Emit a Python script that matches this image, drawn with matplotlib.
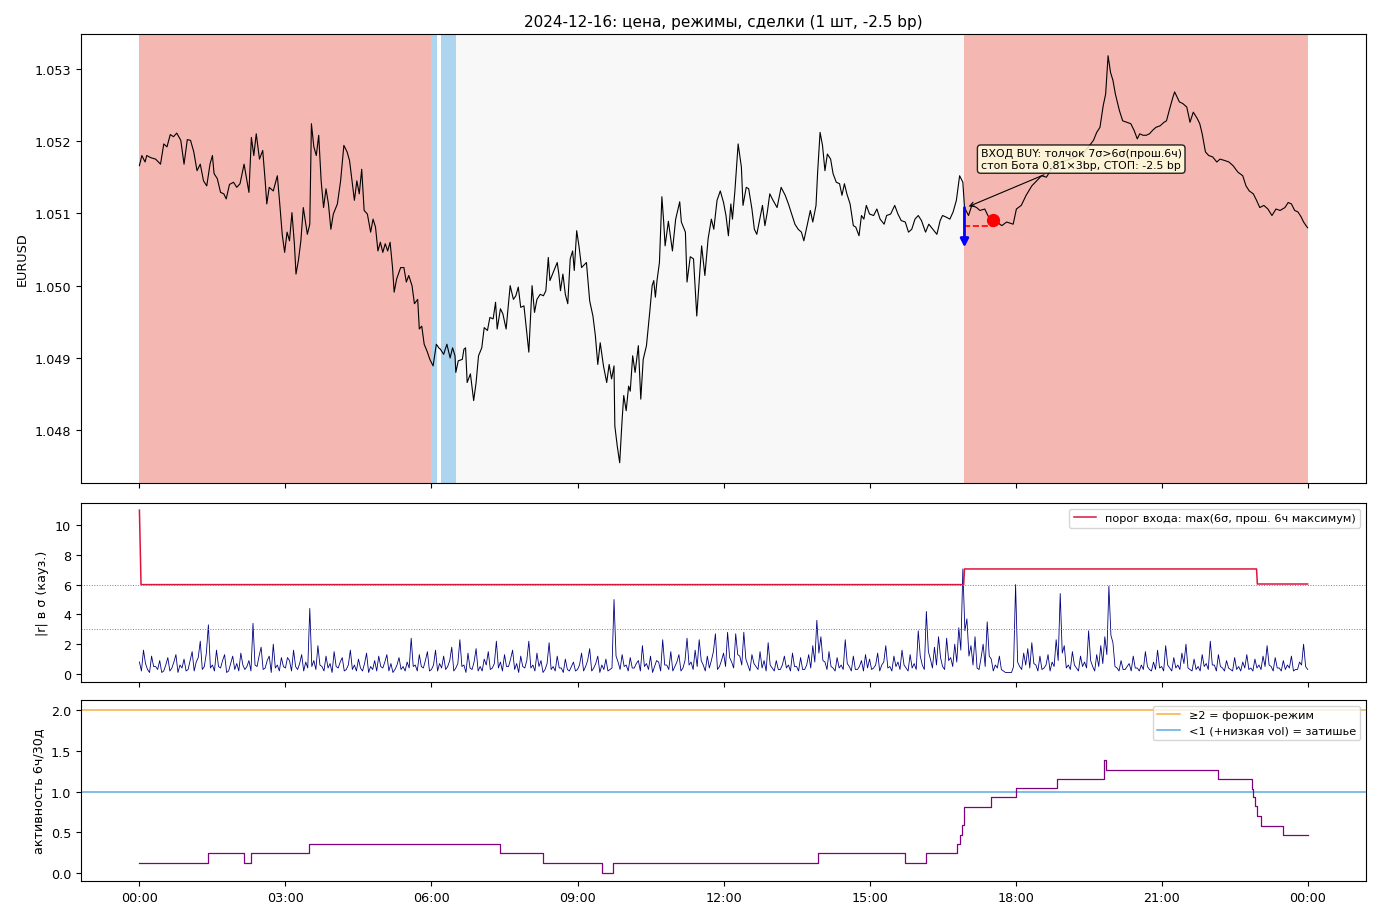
import numpy as np
import matplotlib
matplotlib.use("Agg")
import matplotlib.pyplot as plt

plt.rcParams["font.size"] = 9.2

# --- price, minutes since 00:00 ---
price_t = [0, 3, 7, 9, 14, 20, 26, 30, 34, 38,
           42, 46, 51, 55, 59, 63, 67, 71, 75, 79,
           83, 87, 90, 92, 96, 100, 104, 107, 111, 116,
           120, 124, 129, 135, 138, 141, 144, 148, 152, 155,
           157, 160, 165, 170, 173, 176, 179, 182, 185, 188,
           191, 193, 196, 199, 202, 207, 210, 212, 215, 218,
           221, 224, 227, 230, 233, 236, 239, 244, 248, 252,
           256, 259, 262, 265, 268, 271, 274, 277, 281, 285,
           288, 291, 294, 297, 300, 303, 306, 309, 312, 314,
           317, 322, 326, 329, 332, 336, 339, 343, 345, 348,
           351, 355, 358, 362, 366, 369, 371, 375, 379, 383,
           386, 389, 390, 393, 398, 400, 402, 404, 408, 412,
           415, 418, 422, 425, 429, 432, 436, 439, 441, 445,
           448, 452, 457, 461, 464, 467, 470, 474, 477, 480,
           484, 487, 490, 494, 498, 501, 504, 506, 510, 515,
           517, 519, 522, 525, 528, 531, 534, 536, 539, 542,
           545, 551, 555, 559, 562, 565, 568, 572, 576, 579,
           582, 585, 586, 589, 592, 595, 597, 600, 603, 605,
           608, 611, 615, 618, 621, 625, 629, 632, 634, 636,
           638, 641, 643, 644, 646, 648, 652, 657, 661, 666,
           668, 673, 675, 679, 683, 687, 691, 693, 697, 701,
           705, 708, 712, 716, 720, 723, 726, 729, 731, 734,
           738, 742, 744, 748, 751, 755, 758, 761, 764, 768,
           771, 774, 777, 781, 786, 791, 796, 800, 804, 808,
           812, 816, 819, 823, 827, 830, 834, 836, 839, 842,
           845, 848, 852, 855, 859, 863, 866, 869, 872, 876,
           880, 883, 887, 890, 893, 896, 900, 905, 909, 913,
           918, 921, 926, 931, 935, 939, 944, 948, 952, 956,
           960, 964, 969, 973, 978, 983, 987, 990, 994, 999,
           1003, 1007, 1011, 1015, 1017, 1022, 1026, 1032, 1036, 1042,
           1048, 1057, 1063, 1069, 1077, 1081, 1087, 1093, 1100, 1106,
           1112, 1118, 1124, 1130, 1147, 1163, 1176, 1180, 1184, 1188,
           1191, 1194, 1197, 1200, 1203, 1208, 1212, 1217, 1222, 1226,
           1230, 1233, 1237, 1241, 1245, 1249, 1253, 1258, 1263, 1266,
           1270, 1274, 1276, 1279, 1282, 1286, 1291, 1295, 1299, 1304,
           1307, 1310, 1314, 1318, 1323, 1328, 1332, 1338, 1343, 1348,
           1354, 1360, 1364, 1368, 1373, 1377, 1381, 1386, 1391, 1396,
           1401, 1406, 1412, 1416, 1420, 1424, 1428, 1432, 1435, 1438, 1440]
price_v = [1.05166, 1.05180, 1.05171, 1.05180, 1.05177, 1.05175, 1.05168, 1.05196, 1.05192, 1.05209,
           1.05206, 1.05211, 1.05201, 1.05168, 1.05202, 1.05201, 1.05185, 1.05159, 1.05168, 1.05145,
           1.05138, 1.05168, 1.05180, 1.05155, 1.05148, 1.05129, 1.05127, 1.05120, 1.05140, 1.05143,
           1.05136, 1.05141, 1.05168, 1.05129, 1.05205, 1.05180, 1.05210, 1.05175, 1.05187, 1.05145,
           1.05113, 1.05136, 1.05131, 1.05152, 1.05113, 1.05071, 1.05046, 1.05074, 1.05062, 1.05101,
           1.05058, 1.05016, 1.05035, 1.05062, 1.05108, 1.05071, 1.05085, 1.05224, 1.05192, 1.05180,
           1.05208, 1.05145, 1.05108, 1.05134, 1.05113, 1.05078, 1.05099, 1.05113, 1.05145, 1.05194,
           1.05185, 1.05173, 1.05145, 1.05118, 1.05145, 1.05127, 1.05161, 1.05104, 1.05099, 1.05074,
           1.05092, 1.05081, 1.05048, 1.05060, 1.05046, 1.05058, 1.05048, 1.05060, 1.05025, 1.04991,
           1.05009, 1.05025, 1.05025, 1.05005, 1.05014, 1.05000, 1.04975, 1.04981, 1.04940, 1.04944,
           1.04919, 1.04908, 1.04898, 1.04889, 1.04919, 1.04914, 1.04912, 1.04905, 1.04919, 1.04900,
           1.04914, 1.04903, 1.04880, 1.04896, 1.04898, 1.04912, 1.04914, 1.04866, 1.04878, 1.04841,
           1.04866, 1.04903, 1.04914, 1.04942, 1.04938, 1.04956, 1.04954, 1.04977, 1.04940, 1.04968,
           1.04961, 1.04940, 1.05000, 1.04981, 1.04986, 1.04998, 1.04970, 1.04972, 1.04940, 1.04908,
           1.05000, 1.04963, 1.04981, 1.04988, 1.04986, 1.04993, 1.05039, 1.05007, 1.05018, 1.05032,
           1.05016, 1.04993, 1.05016, 1.04988, 1.04975, 1.05037, 1.05048, 1.05021, 1.05076, 1.05053,
           1.05025, 1.05032, 1.04979, 1.04958, 1.04931, 1.04891, 1.04921, 1.04889, 1.04866, 1.04891,
           1.04871, 1.04889, 1.04806, 1.04778, 1.04755, 1.04815, 1.04848, 1.04827, 1.04861, 1.04854,
           1.04903, 1.04880, 1.04917, 1.04843, 1.04898, 1.04917, 1.04963, 1.05000, 1.05007, 1.04984,
           1.05007, 1.05032, 1.05092, 1.05123, 1.05092, 1.05055, 1.05089, 1.05048, 1.05092, 1.05116,
           1.05088, 1.05074, 1.05005, 1.05040, 1.05037, 1.04958, 1.05023, 1.05055, 1.05014, 1.05065,
           1.05092, 1.05078, 1.05118, 1.05131, 1.05115, 1.05097, 1.05069, 1.05113, 1.05092, 1.05131,
           1.05196, 1.05164, 1.05111, 1.05136, 1.05134, 1.05106, 1.05078, 1.05071, 1.05088, 1.05111,
           1.05083, 1.05102, 1.05127, 1.05118, 1.05108, 1.05136, 1.05125, 1.05113, 1.05099, 1.05085,
           1.05078, 1.05074, 1.05062, 1.05083, 1.05104, 1.05088, 1.05111, 1.05157, 1.05212, 1.05194,
           1.05159, 1.05182, 1.05175, 1.05155, 1.05143, 1.05141, 1.05125, 1.05141, 1.05127, 1.05113,
           1.05083, 1.05081, 1.05069, 1.05097, 1.05092, 1.05111, 1.05099, 1.05097, 1.05106, 1.05092,
           1.05085, 1.05097, 1.05099, 1.05111, 1.05099, 1.05090, 1.05088, 1.05074, 1.05078, 1.05092,
           1.05097, 1.05090, 1.05074, 1.05085, 1.05078, 1.05071, 1.05090, 1.05097, 1.05095, 1.05092,
           1.05102, 1.05118, 1.05152, 1.05143, 1.05108, 1.05097, 1.05111, 1.05108, 1.05104, 1.05106,
           1.05092, 1.05088, 1.05083, 1.05088, 1.05085, 1.05106, 1.05111, 1.05125, 1.05138, 1.05145,
           1.05152, 1.05150, 1.05161, 1.05168, 1.05175, 1.05182, 1.05201, 1.05212, 1.05219, 1.05249,
           1.05265, 1.05318, 1.05295, 1.05284, 1.05265, 1.05242, 1.05228, 1.05226, 1.05224, 1.05215,
           1.05203, 1.05210, 1.05208, 1.05208, 1.05210, 1.05215, 1.05219, 1.05221, 1.05226, 1.05228,
           1.05245, 1.05261, 1.05268, 1.05261, 1.05254, 1.05252, 1.05247, 1.05226, 1.05240, 1.05231,
           1.05224, 1.05210, 1.05185, 1.05180, 1.05178, 1.05171, 1.05175, 1.05173, 1.05171, 1.05166,
           1.05157, 1.05152, 1.05138, 1.05131, 1.05127, 1.05118, 1.05108, 1.05111, 1.05106, 1.05097,
           1.05106, 1.05104, 1.05108, 1.05115, 1.05113, 1.05104, 1.05102, 1.05095, 1.05088, 1.05083, 1.05080]
assert len(price_t) == len(price_v)

# regimes (start, end in minutes)
reg_start = [0, 360, 372, 390, 1017]
reg_end = [360, 367, 390, 1017, 1440]
reg_kind = ["forshock", "quiet", "quiet", "normal", "forshock"]
reg_style = {"forshock": ("#e74c3c", 0.4), "quiet": ("#3498db", 0.4), "normal": ("#bdc3c7", 0.1)}

# trade
entry_t, entry_p = 1017, 1.05108
shock_low = 1.05053
stop_p = 1.05083
exit_t, exit_p = 1052, 1.05091
trade_text = "ВХОД BUY: толчок 7σ>6σ(прош.6ч)\nстоп Бота 0.81×3bp, СТОП: -2.5 bp"

# |r| in sigma: values on the 5-minute marks ...
r_main = [0.8, 1.6, 0.3, 1.2, 0.5, 0.9, 0.2, 1.1, 0.4, 1.3, 0.6, 1.0,
          0.3, 1.5, 0.8, 2.2, 0.5, 3.3, 0.6, 1.6, 0.4, 1.3, 0.2, 1.2,
          0.7, 1.4, 0.3, 0.9, 3.4, 0.5, 1.8, 0.4, 1.2, 2.0, 0.6, 1.1,
          0.4, 0.9, 1.6, 0.3, 1.3, 0.8, 4.4, 0.9, 1.9, 0.5, 1.2, 0.7,
          1.5, 0.4, 1.1, 0.3, 1.6, 0.6, 1.0, 0.2, 1.4, 0.5, 0.9, 1.2,
          0.4, 1.3, 0.7, 0.3, 1.1, 0.5, 0.8, 2.4, 0.6, 1.3, 0.4, 1.5,
          0.3, 1.6, 0.7, 1.2, 0.5, 1.8, 0.4, 2.3, 0.6, 1.4, 0.3, 1.7,
          0.5, 1.0, 1.5, 0.4, 2.2, 0.8, 1.3, 0.5, 1.6, 0.7, 1.2, 0.4,
          2.2, 0.6, 1.4, 0.9, 0.3, 2.1, 0.5, 1.2, 0.4, 1.0, 0.2, 0.8,
          0.3, 1.4, 0.5, 1.7, 0.4, 1.2, 0.6, 1.0, 0.3, 5.0, 0.8, 1.3,
          0.6, 1.1, 0.4, 0.9, 1.9, 0.7, 1.2, 0.5, 0.8, 2.3, 0.6, 1.5,
          0.5, 1.3, 0.4, 2.4, 0.8, 1.6, 2.3, 0.6, 1.2, 0.9, 2.7, 0.5,
          1.4, 2.8, 0.8, 2.7, 1.2, 2.8, 0.6, 1.3, 0.5, 1.5, 0.9, 2.1,
          0.4, 0.9, 0.3, 1.2, 0.6, 1.4, 0.5, 1.1, 0.3, 1.3, 1.9, 3.6,
          2.5, 0.8, 1.5, 0.4, 1.1, 0.6, 2.3, 0.5, 1.2, 0.3, 0.9, 1.3,
          1.0, 0.4, 1.4, 0.6, 1.9, 0.5, 1.2, 0.8, 1.6, 0.4, 1.3, 0.7,
          2.9, 0.6, 4.2, 1.0, 1.8, 2.5, 0.5, 2.4, 1.1, 2.0, 3.1, 7.05,
          3.7, 1.9, 2.5, 0.3, 2.0, 3.5, 1.0, 0.6, 1.2, 0.2, 0.1, 0.1,
          6.0, 0.5, 1.4, 1.7, 2.1, 0.6, 1.2, 0.4, 1.3, 0.8, 2.3, 5.4,
          1.9, 0.6, 1.5, 0.4, 1.2, 0.8, 2.9, 0.5, 1.3, 1.9, 2.5, 5.9,
          2.1, 0.4, 0.9, 0.3, 0.7, 1.2, 0.4, 0.6, 1.5, 0.3, 0.8, 1.6,
          0.5, 1.9, 0.4, 1.1, 0.6, 1.4, 2.0, 0.3, 1.0, 0.5, 1.3, 0.7,
          2.2, 0.6, 1.3, 0.4, 0.9, 0.3, 1.1, 0.5, 0.8, 1.3, 0.4, 1.0,
          0.6, 1.2, 1.9, 0.5, 1.1, 0.4, 0.9, 0.6, 1.2, 0.3, 0.8, 2.0,
          0.3]
# ... and halfway between them
r_half = [0.2, 0.7, 0.1, 0.5, 0.3, 0.1, 0.6, 0.2, 0.8, 0.1, 0.4, 0.2,
          0.9, 0.2, 1.1, 0.3, 1.4, 0.4, 0.2, 0.5, 0.9, 0.1, 0.7, 0.3,
          0.2, 0.6, 0.5, 0.2, 0.6, 1.2, 0.3, 0.9, 0.1, 0.4, 0.2, 0.5,
          1.1, 0.2, 0.5, 0.7, 0.2, 0.4, 0.5, 0.3, 0.6, 0.2, 0.4, 0.1,
          0.5, 0.8, 0.2, 0.6, 0.3, 0.2, 0.4, 0.7, 0.1, 0.3, 0.2, 0.5,
          0.8, 0.2, 0.1, 0.6, 0.3, 0.2, 0.4, 0.5, 0.2, 0.5, 0.9, 0.2,
          0.6, 0.2, 0.4, 0.3, 0.9, 0.2, 0.7, 0.5, 0.1, 0.4, 0.8, 0.2,
          0.2, 0.6, 0.3, 0.7, 0.4, 0.2, 0.5, 1.0, 0.3, 0.1, 0.5, 0.9,
          0.4, 0.2, 0.5, 0.1, 0.7, 0.3, 0.2, 0.4, 0.1, 0.3, 0.5, 0.2,
          0.6, 0.2, 0.9, 0.2, 0.7, 0.1, 0.3, 0.2, 0.4, 1.2, 0.3, 0.5,
          0.2, 0.4, 0.7, 0.2, 0.5, 0.3, 0.1, 0.9, 0.2, 0.6, 0.3, 0.2,
          0.8, 0.2, 0.9, 0.6, 0.3, 0.5, 0.9, 0.2, 0.4, 1.5, 0.3, 0.9,
          0.5, 1.1, 0.4, 1.3, 0.6, 1.0, 0.2, 0.7, 0.3, 0.4, 0.2, 0.6,
          0.2, 0.3, 0.6, 0.4, 0.2, 0.5, 0.2, 0.3, 0.6, 0.4, 0.8, 1.4,
          0.9, 0.3, 0.5, 0.2, 0.4, 0.3, 0.7, 0.2, 0.3, 0.5, 0.2, 0.4,
          0.3, 0.6, 0.2, 0.8, 0.4, 0.2, 0.5, 0.3, 0.6, 0.2, 0.4, 0.3,
          1.2, 0.3, 1.5, 0.4, 0.6, 1.1, 0.3, 0.9, 0.5, 0.8, 1.6, 2.9,
          1.2, 0.6, 0.4, 1.1, 0.5, 1.2, 0.2, 0.4, 0.3, 0.1, 0.1, 0.5,
          0.8, 0.3, 0.6, 0.4, 0.7, 0.2, 0.3, 0.6, 0.2, 0.5, 0.9, 1.4,
          0.4, 0.3, 0.6, 0.2, 0.5, 0.4, 0.9, 0.2, 0.5, 0.7, 1.3, 2.6,
          0.5, 0.2, 0.3, 0.5, 0.2, 0.4, 0.2, 0.3, 0.5, 0.2, 0.3, 0.4,
          0.2, 0.6, 0.2, 0.4, 0.3, 0.7, 0.4, 0.2, 0.3, 0.2, 0.5, 0.3,
          0.6, 0.2, 0.5, 0.2, 0.4, 0.2, 0.3, 0.2, 0.4, 0.3, 0.2, 0.4,
          0.3, 0.5, 0.6, 0.2, 0.4, 0.2, 0.3, 0.4, 0.2, 0.3, 0.6, 0.5]

thr_t = [0, 2, 1016, 1017, 1377, 1378, 1440]
thr_v = [11.0, 6.0, 6.0, 7.05, 7.05, 6.04, 6.04]

# activity 6h/30d, step changes
act_t = [0, 85, 129, 137, 209, 444, 498, 570, 584, 837, 944, 969, 1008, 1011,
         1014, 1017, 1050, 1080, 1131, 1189, 1191, 1329, 1371, 1373, 1375, 1377,
         1382, 1410, 1440]
act_v = [0.12, 0.24, 0.12, 0.24, 0.355, 0.24, 0.12, 0.0, 0.12, 0.24, 0.12, 0.24,
         0.355, 0.47, 0.59, 0.81, 0.93, 1.04, 1.155, 1.39, 1.27, 1.155, 1.03, 0.93,
         0.82, 0.70, 0.58, 0.465, 0.465]

hour_ticks = np.arange(0, 1441, 180)
hour_labels = ["%02d:00" % ((t // 60) % 24) for t in hour_ticks]

# merge the two |r| lists into one 2.5-minute series
r_t = np.arange(0, 1440.1, 2.5)
r_sigma = np.empty(len(r_t))
r_sigma[0::2] = r_main
r_sigma[1::2] = r_half

fig = plt.figure(figsize=(13.8, 9.2), dpi=100)
ax1 = fig.add_axes([0.0587, 0.4739, 0.9312, 0.488])
ax2 = fig.add_axes([0.0587, 0.2576, 0.9312, 0.1946], sharex=ax1)
ax3 = fig.add_axes([0.0587, 0.0413, 0.9312, 0.1967], sharex=ax1)

# top: price + regimes
for s, e, k in zip(reg_start, reg_end, reg_kind):
    c, a = reg_style[k]
    ax1.axvspan(s, e, color=c, alpha=a, lw=0)
ax1.plot(price_t, price_v, color="black", lw=0.8)
ax1.annotate("", xy=(entry_t, shock_low), xytext=(entry_t, entry_p),
             arrowprops=dict(arrowstyle="-|>", color="blue", lw=2, mutation_scale=12,
                             shrinkA=0, shrinkB=0))
ax1.plot([entry_t, exit_t], [stop_p, stop_p], "r--", lw=1.2)
ax1.plot(exit_t, exit_p, "o", color="red", ms=8.5)
ax1.annotate(trade_text, xy=(entry_t + 2, entry_p), xytext=(1037, 1.05175),
             fontsize=7.9, va="center", ha="left",
             bbox=dict(boxstyle="round,pad=0.3", fc="lightyellow", ec="black", alpha=0.85),
             arrowprops=dict(arrowstyle="->", color="black", lw=0.8))
ax1.set_ylim(1.04727, 1.05348)
ax1.set_yticks([1.048, 1.049, 1.050, 1.051, 1.052, 1.053])
ax1.set_ylabel("EURUSD")
ax1.set_title("2024-12-16: цена, режимы, сделки (1 шт, -2.5 bp)", fontsize=11)

# middle: |r| in sigma
ax2.plot(r_t, r_sigma, color="navy", lw=0.6)
ax2.plot(thr_t, thr_v, color="crimson", lw=1.1, label="порог входа: max(6σ, прош. 6ч максимум)")
ax2.axhline(6, color="gray", ls=":", lw=0.7)
ax2.axhline(3, color="gray", ls=":", lw=0.7)
ax2.set_ylim(-0.54, 11.48)
ax2.set_yticks([0, 2, 4, 6, 8, 10])
ax2.set_ylabel("|r| в σ (кауз.)")
ax2.legend(loc="upper right", fontsize=8.1)

# bottom: activity
ax3.axhline(2, color="#f39c12", alpha=0.8, lw=1.1, label="≥2 = форшок-режим")
ax3.axhline(1, color="#3498db", alpha=0.8, lw=1.1, label="<1 (+низкая vol) = затишье")
ax3.plot(act_t, act_v, color="purple", lw=0.9, drawstyle="steps-post")
ax3.set_ylim(-0.098, 2.123)
ax3.set_yticks([0.0, 0.5, 1.0, 1.5, 2.0])
ax3.set_ylabel("активность 6ч/30д")
ax3.legend(loc="upper right", fontsize=8.1)

ax3.set_xlim(-72, 1512)
ax3.set_xticks(hour_ticks)
ax3.set_xticklabels(hour_labels)
ax1.tick_params(labelbottom=False)
ax2.tick_params(labelbottom=False)

fig.savefig("out.png", dpi=100)
